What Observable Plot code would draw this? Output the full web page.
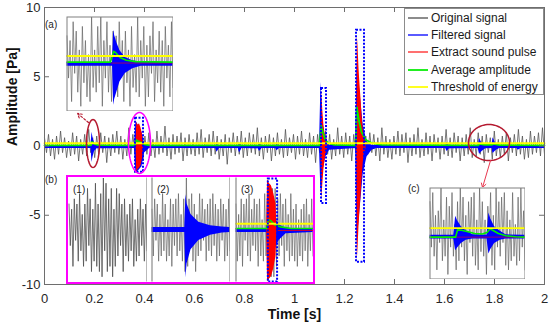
<!DOCTYPE html>
<html><head><meta charset="utf-8">
<script src="https://cdn.jsdelivr.net/npm/d3@7"></script>
<script src="https://cdn.jsdelivr.net/npm/@observablehq/plot@0.6"></script>
<style>
body{margin:0;background:#fff;font-family:"Liberation Sans",Arial,sans-serif;}
#wrap{position:relative;width:550px;height:330px;overflow:hidden;background:#fff}
.lbl{position:absolute;font-size:10px;color:#262626;line-height:10px}
#legend{position:absolute;left:404px;top:8px;width:140px;height:87px;border:1px solid #8c8c8c;background:#fff;box-sizing:border-box}
#legend .row{position:absolute;left:0;height:16px;font-size:12px;line-height:16px;color:#1a1a1a;white-space:nowrap}
#legend .sw{position:absolute;left:3px;top:7px;width:20px;height:2px}
#legend .tx{position:absolute;left:26px;top:0}
#boxb{position:absolute;left:66px;top:175px;width:249px;height:109px;border:2px solid #ff00ff;box-sizing:border-box}
</style></head><body><div id="wrap"></div>
<script>
// ---------- main axes ----------
const xTicks = [0, 0.2, 0.4, 0.6, 0.8, 1, 1.2, 1.4, 1.6, 1.8, 2];
const yTicks = [-10, -5, 0, 5, 10];

// original signal, alternating peaks, sampled evenly over 0..2 s (units of grayUnit Pa)
const grayUnit = 0.12;
const mainGray = [
5,-4,7,-6,4,-8,6,-5,9,-4,5,-7,3,-6,8,-5,6,-9,4,-5,7,-6,10,-4,5,
-7,6,-5,8,-4,6,-10,5,-6,7,-4,9,-5,6,-8,4,-6,11,-5,7,-4,6,-7,5,-9,
6,-5,8,-6,4,-7,9,-5,6,-4,12,-6,5,-8,7,-5,6,-4,8,-9,5,-6,7,-5,4,
-6,8,-5,10,-7,5,-4,7,-6,9,-5,6,-8,4,-6,7,-11,5,-4,8,-6,6,-5,9,-7,
5,-6,8,-4,7,-5,11,-6,5,-8,6,-4,7,-9,5,-6,8,-5,4,-7,10,-6,5,-4,7,
-8,6,-5,9,-6,4,-7,8,-5,6,-10,7,-4,5,-6,9,-5,7,-8,4,-6,11,-5,6,-7,
8,-5,6,-9,7,-4,5,-6,10,-7,6,-5,8,-4,7,-6,5,-9,11,-5,6,-7,4,-8,6,
-5,9,-6,7,-4,8,-10,5,-6,7,-5,11,-7,4,-6,8,-5,6,-9,7,-4,5,-8,6,-5,
10,-6,5,-7,8,-4,6,-9,5,-6,7,-5,11,-7,4,-6,8,-5,6,-10,7,-4,5,-8,9,
-6,4,-7,6,-5,8,-9,5,-4,7,-6,10,-5,6,-8,4,-7,9,-5,6,-4,8,-6,11,-5
];

// filtered signal envelope
const filtT  = [0,0.186,0.19,0.194,0.2,0.21,0.36,0.366,0.39,0.4,0.42,0.685,0.69,0.7,0.775,0.78,0.79,0.855,0.86,0.87,0.925,0.93,0.94,1.1,1.106,1.112,1.125,1.14,1.245,1.25,1.275,1.29,1.31,1.33,1.605,1.61,1.62,1.735,1.74,1.75,1.765,1.79,1.794,1.805,1.82,1.89,1.895,1.905,2];
const filtHi = [0.03,0.03,1.0,0.6,0.2,0.05,0.03,1.8,1.0,0.2,0.03,0.03,0.1,0.03,0.03,0.2,0.03,0.03,0.15,0.03,0.03,0.1,0.03,0.03,4.6,2.0,0.4,0.05,0.03,6.0,1.5,0.3,0.03,0.03,0.03,0.25,0.03,0.03,0.55,0.2,0.03,0.03,0.6,0.2,0.03,0.03,0.1,0.03,0.03];
const filtLo = [-0.18,-0.18,-1.2,-0.8,-0.4,-0.2,-0.18,-2.0,-1.5,-0.5,-0.18,-0.18,-0.45,-0.18,-0.18,-0.5,-0.18,-0.2,-0.4,-0.18,-0.18,-0.35,-0.18,-0.18,-3.5,-2.0,-0.8,-0.3,-0.18,-7.0,-2.0,-0.8,-0.3,-0.18,-0.18,-0.4,-0.2,-0.18,-0.6,-0.4,-0.2,-0.18,-0.55,-0.35,-0.18,-0.18,-0.3,-0.18,-0.18];

// extracted sound pulses
const pulseId = [1,1,1,1,1,1,1, 2,2,2,2,2,2, 3,3,3,3,3,3,3,3,3,3];
const pulseT  = [0.366,0.369,0.374,0.38,0.386,0.392,0.396, 1.106,1.109,1.113,1.118,1.124,1.132, 1.248,1.251,1.254,1.258,1.262,1.266,1.27,1.275,1.28,1.286];
const pulseHi = [0.3,1.7,1.5,1.6,1.3,0.8,0.2, 0.3,4.0,2.6,1.4,0.7,0.2, 0.5,8.0,7.2,5.6,4.4,3.4,2.2,1.2,0.5,0.2];
const pulseLo = [-0.3,-1.9,-1.7,-1.6,-1.4,-0.9,-0.2, -0.3,-4.0,-2.8,-1.6,-0.8,-0.2, -0.5,-8.3,-7.4,-5.8,-4.6,-3.6,-2.4,-1.2,-0.5,-0.2];

// average amplitude
const avgT = [0,0.186,0.19,0.2,0.215,0.36,0.368,0.38,0.4,0.42,1.1,1.107,1.115,1.122,1.135,1.16,1.245,1.249,1.258,1.268,1.285,1.31,1.35,1.735,1.74,1.76,1.79,1.795,1.82,2];
const avgV = [0.05,0.05,0.3,0.15,0.06,0.05,0.42,0.3,0.12,0.05,0.05,1.45,0.9,0.5,0.2,0.08,0.05,2.8,1.8,1.0,0.45,0.2,0.08,0.05,0.15,0.08,0.08,0.15,0.06,0.05];

// threshold of energy
const thrT = [0, 2];
const thrV = [0.2, 0.2];

// dotted boxes around extracted pulses
const boxX1 = [0.364, 1.108, 1.248];
const boxX2 = [0.396, 1.128, 1.28];
const boxY1 = [-1.9, -4.15, -8.4];
const boxY2 = [2.0, 4.15, 8.35];

// ellipse annotations
const ellCx = [0.194, 0.38, 1.778];
const ellCy = [0.18, 0.22, 0.25];
const ellRx = [0.026, 0.044, 0.082];
const ellRy = [1.73, 2.2, 1.3];
const ellColor = ["#b51a30", "#ff00ff", "#b51a30"];

// arrows to insets
const arrX1 = [0.176, 1.784];
const arrY1 = [1.7, -1.05];
const arrX2 = [0.132, 1.752];
const arrY2 = [2.35, -3.0];

const legendLabels = ["Original signal","Filtered signal","Extract sound pulse","Average amplitude","Threshold of energy"];
const legendColors = ["#8c8c8c","#5a5aff","#ff7070","#22ee22","#ffff22"];

// ---------- inset (a) ----------
const aGray = [6,-3,5,-8,9,-2,7,-6,3,-9,8,-4,5,-7,2,-8,10,-5,3,-6,8,-4,10,-9,5,-3,9,-6,4,-8,7,-2,6,-7,9,-3,5,-8,7,-4,3,-9,8,-5,2,-6,10,-7,5,-3,8,-9,4,-7,6,-2,9,-8,3,-4,7,-6,5,-9,8,-3,4,-7,9,-5];
const aFiltT  = [0,0.43,0.44,0.45,0.47,0.5,0.55,0.62,0.7,1];
const aFiltHi = [0.03,0.03,0.72,0.6,0.45,0.28,0.14,0.07,0.03,0.03];
const aFiltLo = [-0.05,-0.05,-0.88,-0.75,-0.6,-0.38,-0.2,-0.1,-0.05,-0.05];
const aAvgT = [0,0.41,0.44,0.46,0.5,0.56,0.65,1];
const aAvgV = [0.04,0.04,0.27,0.24,0.14,0.08,0.05,0.04];
const aThrV = [0.17, 0.17];
const aRedT = [0.42, 1];
const aRedV = [0.02, 0.02];

// ---------- inset (b) panels ----------
const p1Gray = [5,-3,4,-7,6,-2,5,-6,7,-4,3,-7,5,-6,8,-3,6,-8,4,-6,9,-7,5,-8,7,-9,10,-4,9,-8,6,-7,8,-9,4,-7,8,-5,7,-3,5,-8,6,-5,3,-6,5,-4,6,-7,2,-6,4,-5,6,-3,4,-6,5,-4];
const p2Gray = [4,-5,6,-2,5,-6,3,-5,7,-4,5,-6,2,-5,6,-7,5,-3,6,-5,7,-4,3,-6,6,-8,10,-7,6,-3,7,-6,5,-8,3,-5,7,-4,6,-2,4,-6,5,-4,6,-5,7,-3,5,-6,4,-5,6,-2,5,-6,4,-5,6,-4];
const p2FiltT  = [0,0.42,0.435,0.45,0.5,0.6,0.75,0.9,1];
const p2FiltHi = [0.05,0.05,0.68,0.5,0.3,0.15,0.08,0.06,0.05];
const p2FiltLo = [-0.05,-0.05,-0.92,-0.65,-0.38,-0.2,-0.1,-0.06,-0.05];
const p3Gray = [5,-6,3,-5,6,-7,5,-2,6,-5,7,-6,4,-3,6,-4,5,-7,6,-5,2,-6,7,-5,6,-8,7,-9,8,-9,8,-7,6,-5,7,-3,5,-7,6,-4,3,-6,7,-5,4,-6,5,-7,2,-5,4,-6,5,-4,6,-7,3,-4,6,-5];
const p3FiltT  = [0,0.4,0.42,0.5,0.56,0.65,1];
const p3FiltHi = [0.02,0.02,0.3,0.25,0.1,0.03,0.02];
const p3FiltLo = [-0.05,-0.05,-0.5,-0.4,-0.2,-0.07,-0.05];
const p3PulseT  = [0.4,0.41,0.43,0.46,0.49,0.52,0.53];
const p3PulseHi = [0.2,0.98,0.9,0.85,0.7,0.5,0.1];
const p3PulseLo = [-0.2,-1,-0.95,-0.9,-0.75,-0.5,-0.1];
const p3AvgT = [0,0.4,0.42,0.45,0.5,0.58,0.72,1];
const p3AvgV = [0.03,0.03,0.2,0.18,0.1,0.06,0.03,0.03];
const p3ThrV = [0.12, 0.12];
const p3RedT = [0.53, 1];
const p3RedV = [-0.01, -0.01];
const p3Box = {x1: 0.42, x2: 0.54, y1: -1, y2: 0.98};

// ---------- inset (c) ----------
const cGray = [7,-3,9,-5,4,-8,5,-2,10,-6,3,-5,8,-9,6,-3,9,-5,2,-8,7,-6,10,-3,8,-6,4,-9,7,-2,8,-5,9,-7,3,-8,10,-4,7,-5,3,-9,6,-2,9,-7,4,-8,10,-3,7,-5,8,-2,9,-7,5,-8,3,-6,9,-5,2,-7,8,-6,10,-3,5,-8];
const cFiltT  = [0,0.25,0.27,0.29,0.33,0.38,0.45,0.6,0.62,0.64,0.68,0.74,0.8,1];
const cFiltHi = [-0.04,-0.04,0.38,0.28,0.15,0.06,-0.03,-0.04,0.45,0.32,0.15,0.05,-0.03,-0.04];
const cFiltLo = [-0.12,-0.12,-0.38,-0.32,-0.22,-0.15,-0.12,-0.12,-0.45,-0.35,-0.22,-0.15,-0.12,-0.12];
const cAvgT = [0,0.27,0.29,0.33,0.4,0.47,0.55,0.6,0.63,0.66,0.72,0.8,0.9,1];
const cAvgV = [-0.08,-0.08,0.08,0.07,0.04,0.0,-0.01,0.02,0.1,0.07,0.0,-0.05,-0.07,-0.08];
const cThrV = [0.12, 0.12];
const cRedV = [-0.08, -0.08];

// ---------- helpers ----------
const zig = (vals, x0, x1, unit = 0.1) => vals.map((v, i) => ({x: x0 + (x1 - x0) * i / (vals.length - 1), y: v * unit}));
const band = (T, Hi, Lo) => T.map((t, i) => ({t, hi: Hi[i], lo: Lo[i]}));
const pts = (T, V) => T.map((t, i) => ({t, v: V[i]}));
const GRAY = "#646464", BLUE = "#0000ff", RED = "#ff0000", GREEN = "#00ee00", YELLOW = "#ffff00";

const wrap = document.getElementById("wrap");
function place(el, left, top) {
  el.style.position = "absolute"; el.style.left = left + "px"; el.style.top = top + "px";
  wrap.appendChild(el);
}

// ---------- main plot ----------
const ellPts = [];
ellCx.forEach((cx, k) => {
  for (let j = 0; j <= 72; j++) {
    const a = j / 72 * 2 * Math.PI;
    ellPts.push({id: k, x: cx + ellRx[k] * Math.cos(a), y: ellCy[k] + ellRy[k] * Math.sin(a)});
  }
});
const pulseRows = pulseT.map((t, i) => ({id: pulseId[i], t, hi: pulseHi[i], lo: pulseLo[i]}));
const boxRows = boxX1.map((x1, i) => ({x1, x2: boxX2[i], y1: boxY1[i], y2: boxY2[i]}));
const arrRows = arrX1.map((x1, i) => ({x1, y1: arrY1[i], x2: arrX2[i], y2: arrY2[i]}));

const main = Plot.plot({
  width: 550, height: 330,
  marginTop: 7, marginBottom: 46, marginLeft: 44, marginRight: 6,
  style: {fontFamily: "Liberation Sans, Arial, sans-serif", fontSize: "13px", color: "#262626", background: "#fff"},
  x: {domain: [0, 2], ticks: xTicks, tickSize: 0, tickPadding: 9, tickFormat: d => String(d), label: null},
  y: {domain: [-10, 10], ticks: yTicks, tickSize: 0, tickPadding: 4, tickFormat: d => String(d), label: null},
  marks: [
    Plot.line(zig(mainGray, 0, 2, grayUnit), {x: "x", y: "y", stroke: "#555", strokeWidth: 0.8}),
    Plot.areaY(band(filtT, filtHi, filtLo), {x: "t", y1: "lo", y2: "hi", fill: BLUE}),
    Plot.areaY(pulseRows, {x: "t", y1: "lo", y2: "hi", z: "id", fill: RED}),
    Plot.line(pts(avgT, avgV), {x: "t", y: "v", stroke: GREEN, strokeWidth: 1.8}),
    Plot.line(pts(thrT, thrV), {x: "t", y: "v", stroke: YELLOW, strokeWidth: 2}),
    Plot.rect(boxRows, {x1: "x1", x2: "x2", y1: "y1", y2: "y2", fill: "none", stroke: BLUE, strokeWidth: 2, strokeDasharray: "2,1.5"}),
    ...ellCx.map((_, k) => Plot.line(ellPts.filter(d => d.id === k), {x: "x", y: "y", stroke: ellColor[k], strokeWidth: 1.5, curve: "linear"})),
    Plot.arrow([arrRows[0]], {x1: "x1", y1: "y1", x2: "x2", y2: "y2", stroke: "#b51a30", strokeWidth: 1.2, strokeDasharray: "2,2", headLength: 7}),
    Plot.arrow([arrRows[1]], {x1: "x1", y1: "y1", x2: "x2", y2: "y2", stroke: "#e8384f", strokeWidth: 1, headLength: 7}),
    Plot.ruleX(xTicks, {x: d => d, y1: -10, y2: -10, insetTop: -5, stroke: "#6e6e6e"}),
    Plot.ruleX(xTicks, {x: d => d, y1: 10, y2: 10, insetBottom: -5, stroke: "#6e6e6e"}),
    Plot.ruleY(yTicks, {y: d => d, x1: 0, x2: 0, insetRight: -5, stroke: "#6e6e6e"}),
    Plot.ruleY(yTicks, {y: d => d, x1: 2, x2: 2, insetLeft: -5, stroke: "#6e6e6e"}),
    Plot.frame({stroke: "#6e6e6e"}),
    Plot.text(["Amplitude [Pa]"], {text: d => d, frameAnchor: "left", dx: -32, rotate: -90, fontWeight: "bold", fontSize: 14, fill: "#111"}),
    Plot.text(["Time [s]"], {text: d => d, frameAnchor: "bottom", dy: 34, fontWeight: "bold", fontSize: 14, fill: "#111"})
  ]
});
place(main, 0, 0);

// ---------- insets ----------
function inset(w, h, marks, m = 0.5) {
  return Plot.plot({
    width: w, height: h, marginTop: m, marginBottom: m, marginLeft: m, marginRight: m,
    x: {domain: [0, 1], axis: null}, y: {domain: [-1, 1], axis: null},
    style: {background: "#fff", fontFamily: "Liberation Sans, Arial, sans-serif", overflow: "hidden"},
    marks
  });
}

// (a)
place(inset(107, 95, [
  Plot.line(zig(aGray, 0, 1), {x: "x", y: "y", stroke: GRAY, strokeWidth: 0.7}),
  Plot.areaY(band(aFiltT, aFiltHi, aFiltLo), {x: "t", y1: "lo", y2: "hi", fill: BLUE}),
  Plot.line(pts(aRedT, aRedV), {x: "t", y: "v", stroke: "#c0004a", strokeWidth: 0.8}),
  Plot.line(pts(aAvgT, aAvgV), {x: "t", y: "v", stroke: GREEN, strokeWidth: 1.6}),
  Plot.line(pts([0, 1], aThrV), {x: "t", y: "v", stroke: YELLOW, strokeWidth: 1.8}),
  Plot.frame({stroke: "#808080"})
]), 66, 16);

// (b)
const boxb = document.createElement("div"); boxb.id = "boxb"; wrap.appendChild(boxb);
place(inset(79, 105, [
  Plot.line(zig(p1Gray, 0, 1), {x: "x", y: "y", stroke: "#505050", strokeWidth: 0.8}),
  Plot.ruleX([1], {stroke: "#8a8a8a", strokeWidth: 1.2}),
  Plot.text(["(1)"], {text: d => d, frameAnchor: "top-left", dx: 4, dy: 8, fontSize: 10, fill: "#222"})
]), 68, 177);
place(inset(79, 105, [
  Plot.line(zig(p2Gray, 0, 1), {x: "x", y: "y", stroke: GRAY, strokeWidth: 0.7}),
  Plot.areaY(band(p2FiltT, p2FiltHi, p2FiltLo), {x: "t", y1: "lo", y2: "hi", fill: BLUE}),
  Plot.ruleX([0, 1], {stroke: "#8a8a8a", strokeWidth: 1.2}),
  Plot.text(["(2)"], {text: d => d, frameAnchor: "top-left", dx: 5, dy: 8, fontSize: 10, fill: "#222"})
]), 151, 177);
place(inset(78, 105, [
  Plot.line(zig(p3Gray, 0, 1), {x: "x", y: "y", stroke: GRAY, strokeWidth: 0.7}),
  Plot.areaY(band(p3FiltT, p3FiltHi, p3FiltLo), {x: "t", y1: "lo", y2: "hi", fill: BLUE}),
  Plot.areaY(band(p3PulseT, p3PulseHi, p3PulseLo), {x: "t", y1: "lo", y2: "hi", fill: RED}),
  Plot.line(pts(p3RedT, p3RedV), {x: "t", y: "v", stroke: RED, strokeWidth: 0.8}),
  Plot.line(pts(p3AvgT, p3AvgV), {x: "t", y: "v", stroke: GREEN, strokeWidth: 1.6}),
  Plot.line(pts([0, 1], p3ThrV), {x: "t", y: "v", stroke: YELLOW, strokeWidth: 1.8}),
  Plot.rect([p3Box], {x1: "x1", x2: "x2", y1: "y1", y2: "y2", fill: "none", stroke: BLUE, strokeWidth: 2, strokeDasharray: "2,1.5"}),
  Plot.ruleX([0], {stroke: "#8a8a8a", strokeWidth: 1.2}),
  Plot.text(["(3)"], {text: d => d, frameAnchor: "top-left", dx: 5, dy: 8, fontSize: 10, fill: "#222"})
]), 235, 177);

// (c)
place(inset(96, 92, [
  Plot.line(zig(cGray, 0, 1), {x: "x", y: "y", stroke: GRAY, strokeWidth: 0.7}),
  Plot.areaY(band(cFiltT, cFiltHi, cFiltLo), {x: "t", y1: "lo", y2: "hi", fill: BLUE}),
  Plot.line(pts([0, 1], cRedV), {x: "t", y: "v", stroke: "#c0004a", strokeWidth: 0.8}),
  Plot.line(pts(cAvgT, cAvgV), {x: "t", y: "v", stroke: GREEN, strokeWidth: 1.6}),
  Plot.line(pts([0, 1], cThrV), {x: "t", y: "v", stroke: YELLOW, strokeWidth: 1.8}),
  Plot.frame({stroke: "#808080"})
]), 429, 187);

// inset labels
[["(a)", 45, 20], ["(b)", 45, 175], ["(c)", 408, 184]].forEach(([t, l, tp]) => {
  const d = document.createElement("div"); d.className = "lbl"; d.textContent = t;
  d.style.left = l + "px"; d.style.top = tp + "px"; wrap.appendChild(d);
});

// legend
const lg = document.createElement("div"); lg.id = "legend";
legendLabels.forEach((lab, i) => {
  const r = document.createElement("div"); r.className = "row"; r.style.top = (1 + i * 17.2) + "px";
  const sw = document.createElement("div"); sw.className = "sw"; sw.style.background = legendColors[i];
  const tx = document.createElement("div"); tx.className = "tx"; tx.textContent = lab;
  r.appendChild(sw); r.appendChild(tx); lg.appendChild(r);
});
wrap.appendChild(lg);
</script></body></html>
